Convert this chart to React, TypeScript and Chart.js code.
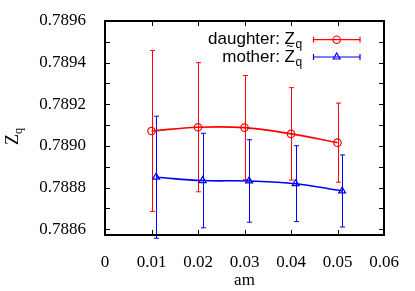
import React, { useEffect, useRef } from 'react';
import { Chart, registerables } from 'chart.js';

Chart.register(...registerables);

const xTickValues = [0, 0.01, 0.02, 0.03, 0.04, 0.05, 0.06];
const xTickLabels = ['0', '0.01', '0.02', '0.03', '0.04', '0.05', '0.06'];
const yTickValues = [0.7886, 0.7887, 0.7888, 0.7889, 0.789, 0.7891, 0.7892, 0.7893, 0.7894, 0.7895, 0.7896];
const yTickLabels = ['0.7886', '', '0.7888', '', '0.7890', '', '0.7892', '', '0.7894', '', '0.7896'];

const daughterX = [0.01, 0.02, 0.03, 0.04, 0.05];
const daughterY = [0.789072, 0.78909, 0.789088, 0.789058, 0.789016];
const daughterErr = [0.000386, 0.00031, 0.00025, 0.000222, 0.00019];

const motherX = [0.011, 0.021, 0.031, 0.041, 0.051];
const motherY = [0.78885, 0.788834, 0.788832, 0.788819, 0.788784];
const motherErr = [0.000293, 0.000227, 0.000198, 0.000182, 0.000173];

const RED = '#ff0000';
const BLUE = '#0000ff';
const SERIF = '"Liberation Serif", "Times New Roman", serif';
const SANS = '"Liberation Sans", Arial, sans-serif';

export default function App() {
  const ref = useRef<HTMLCanvasElement>(null);

  useEffect(() => {
    const canvas = ref.current!;

    const errorBars = {
      id: 'errorBars',
      beforeDatasetsDraw(chart: any) {
        const ctx = chart.ctx;
        const xs = chart.scales.x;
        const ys = chart.scales.y;
        const sets = [
          { x: daughterX, y: daughterY, e: daughterErr, c: RED },
          { x: motherX, y: motherY, e: motherErr, c: BLUE },
        ];
        ctx.save();
        ctx.lineWidth = 1;
        for (const s of sets) {
          ctx.strokeStyle = s.c;
          for (let i = 0; i < s.x.length; i++) {
            const px = Math.round(xs.getPixelForValue(s.x[i])) + 0.5;
            const top = ys.getPixelForValue(s.y[i] + s.e[i]);
            const bot = ys.getPixelForValue(s.y[i] - s.e[i]);
            ctx.beginPath();
            ctx.moveTo(px, top);
            ctx.lineTo(px, bot);
            ctx.moveTo(px - 2.5, top);
            ctx.lineTo(px + 2.5, top);
            ctx.moveTo(px - 2.5, bot);
            ctx.lineTo(px + 2.5, bot);
            ctx.stroke();
          }
        }
        ctx.restore();
      },
    };

    const labels = {
      id: 'labels',
      afterDraw(chart: any) {
        const ctx = chart.ctx;
        const xs = chart.scales.x;
        const ys = chart.scales.y;
        const L = Math.round(xs.left);
        const R = Math.round(xs.right);
        const T = Math.round(ys.top);
        const B = Math.round(ys.bottom);
        ctx.save();
        ctx.globalAlpha = 1;
        ctx.globalCompositeOperation = 'source-over';
        ctx.fillStyle = '#000000';
        ctx.fillRect(L - 1, T - 1, R - L + 2, 2);
        ctx.fillRect(L - 1, B - 1, R - L + 2, 2);
        ctx.fillRect(L - 1, T - 1, 2, B - T + 2);
        ctx.fillRect(R - 1, T - 1, 2, B - T + 2);
        for (const v of yTickValues) {
          const py = Math.round(ys.getPixelForValue(v));
          ctx.fillRect(L, py, 5, 1);
          ctx.fillRect(R - 5, py, 5, 1);
        }
        for (const v of xTickValues) {
          const px = Math.round(xs.getPixelForValue(v));
          ctx.fillRect(px, B - 5, 1, 5);
          ctx.fillRect(px, T, 1, 5);
        }

        ctx.font = `17px ${SERIF}`;
        ctx.textAlign = 'center';
        ctx.textBaseline = 'alphabetic';
        ctx.fillText('am', (L + R) / 2, 285);

        ctx.save();
        ctx.translate(17.5, 145);
        ctx.rotate(-Math.PI / 2);
        ctx.textAlign = 'left';
        ctx.font = `18px ${SERIF}`;
        ctx.fillText('Z', 0, 0);
        const zw = ctx.measureText('Z').width;
        ctx.font = `12px ${SERIF}`;
        ctx.fillText('q', zw, 4);
        ctx.restore();

        const rows = [
          { label: 'daughter: Z', c: RED, base: 43.5, ly: 39.7, tri: false, tilde: false },
          { label: 'mother: Z', c: BLUE, base: 61.5, ly: 57, tri: true, tilde: true },
        ];
        for (const r of rows) {
          ctx.fillStyle = '#000';
          ctx.font = `17px ${SANS}`;
          ctx.textAlign = 'right';
          ctx.textBaseline = 'alphabetic';
          ctx.fillText(r.label, 295, r.base);
          const zw2 = ctx.measureText('Z').width;
          ctx.font = `12px ${SANS}`;
          ctx.textAlign = 'left';
          ctx.fillText('q', 295.5, r.base + 4);
          if (r.tilde) {
            ctx.textAlign = 'center';
            ctx.textBaseline = 'middle';
            ctx.fillText('~', 295 - zw2 / 2, r.base - 15);
          }
          ctx.strokeStyle = r.c;
          ctx.lineWidth = 1.2;
          ctx.beginPath();
          ctx.moveTo(313.5, r.ly);
          ctx.lineTo(360, r.ly);
          ctx.moveTo(313.5, r.ly - 3);
          ctx.lineTo(313.5, r.ly + 3);
          ctx.moveTo(360, r.ly - 3);
          ctx.lineTo(360, r.ly + 3);
          ctx.stroke();
          ctx.beginPath();
          const cx = 336.7;
          if (r.tri) {
            const rad = 4;
            ctx.moveTo(cx, r.ly - rad);
            ctx.lineTo(cx + rad * 0.866, r.ly + rad * 0.5);
            ctx.lineTo(cx - rad * 0.866, r.ly + rad * 0.5);
            ctx.closePath();
          } else {
            ctx.arc(cx, r.ly, 3.7, 0, Math.PI * 2);
          }
          ctx.stroke();
        }
        ctx.restore();
      },
    };

    const tickFont = { family: SERIF, size: 17 };

    const chart = new Chart(canvas, {
      type: 'scatter',
      data: {
        datasets: [
          {
            label: 'daughter',
            data: daughterX.map((x, i) => ({ x, y: daughterY[i] })),
            borderColor: RED,
            backgroundColor: 'rgba(0,0,0,0)',
            pointStyle: 'circle',
            pointRadius: 3.7,
            pointBorderWidth: 1.2,
            pointBorderColor: RED,
            pointBackgroundColor: 'rgba(0,0,0,0)',
            showLine: true,
            borderWidth: 1.6,
            tension: 0.4,
          },
          {
            label: 'mother',
            data: motherX.map((x, i) => ({ x, y: motherY[i] })),
            borderColor: BLUE,
            backgroundColor: 'rgba(0,0,0,0)',
            pointStyle: 'triangle',
            pointRadius: 4,
            pointBorderWidth: 1.2,
            pointBorderColor: BLUE,
            pointBackgroundColor: 'rgba(0,0,0,0)',
            showLine: true,
            borderWidth: 1.6,
            tension: 0.4,
          },
        ],
      },
      options: {
        responsive: false,
        animation: false,
        devicePixelRatio: 1,
        layout: { padding: { left: 0, right: 31, top: 21, bottom: 0 } },
        plugins: { legend: { display: false }, tooltip: { enabled: false } },
        scales: {
          x: {
            type: 'linear',
            min: 0,
            max: 0.06,
            grid: { display: false, drawTicks: false },
            border: { display: true, color: '#000', width: 2 },
            afterBuildTicks: (s: any) => {
              s.ticks = xTickValues.map((v) => ({ value: v }));
            },
            afterFit: (s: any) => {
              s.height = 56.5;
              s.paddingLeft = 0;
              s.paddingRight = 0;
            },
            ticks: {
              callback: (_v: any, i: number) => xTickLabels[i],
              font: tickFont,
              color: '#000',
              padding: 18,
              maxRotation: 0,
              autoSkip: false,
            },
          },
          y: {
            type: 'linear',
            min: 0.788575,
            max: 0.7896,
            grid: { display: false, drawTicks: false },
            border: { display: true, color: '#000', width: 2 },
            afterBuildTicks: (s: any) => {
              s.ticks = yTickValues.map((v) => ({ value: v }));
            },
            afterFit: (s: any) => {
              s.width = 105;
              s.paddingTop = 0;
              s.paddingBottom = 0;
            },
            ticks: {
              callback: (_v: any, i: number) => yTickLabels[i],
              font: tickFont,
              color: '#000',
              padding: 19,
              autoSkip: false,
            },
          },
        },
      } as any,
      plugins: [errorBars, labels],
    });

    return () => chart.destroy();
  }, []);

  return (
    <canvas
      ref={ref}
      width={415}
      height={291}
      style={{ position: 'fixed', left: 0, top: 0, width: 415, height: 291 }}
    />
  );
}
